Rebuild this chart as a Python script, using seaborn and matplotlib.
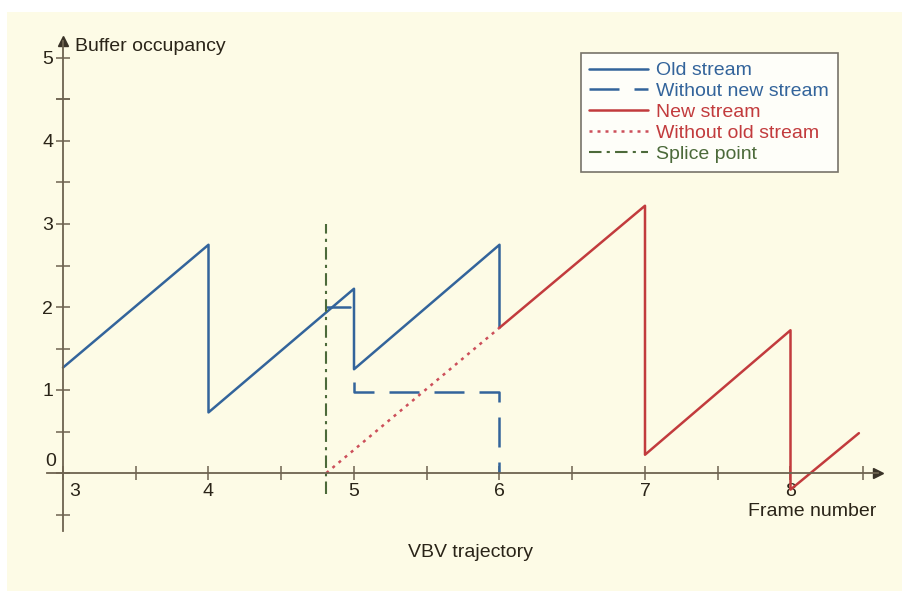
import matplotlib
matplotlib.use("Agg")
import matplotlib.pyplot as plt
from matplotlib.patches import Rectangle
import seaborn as sns

# data
old_x = [3, 4, 4, 5, 5, 6, 6]
old_y = [1.27, 2.75, 0.73, 2.22, 1.25, 2.75, 1.75]
hold_x = [4.81, 4.97]
hold_y = [2.0, 2.0]
no_new_x = [5, 5, 6, 6]
no_new_y = [1.1, 0.97, 0.97, 0.0]
new_x = [6, 7, 7, 8, 8, 8.47]
new_y = [1.75, 3.22, 0.22, 1.72, -0.2, 0.48]
no_old_x = [4.81, 6]
no_old_y = [0.0, 1.75]
splice_x = [4.81, 4.81]
splice_y = [-0.25, 3.0]

x_ticks = [3, 4, 5, 6, 7, 8]
y_ticks = [0, 1, 2, 3, 4, 5]

BG = "#fdfbe6"
AXC = "#6e6350"
TXT = "#2a2418"
BLUE = "#33649b"
RED = "#c23b3d"
PINK = "#cc4f5a"
GREEN = "#4c6a3a"

sns.set_style("white")
plt.rcParams["font.family"] = ["Liberation Sans", "DejaVu Sans"]

fig = plt.figure(figsize=(9.03, 5.91), dpi=100, facecolor="white")
# cream page with a thin white margin top and left
fig.patches.append(Rectangle((7 / 903, 0), 1, 1 - 12 / 591,
                             transform=fig.transFigure, facecolor=BG,
                             edgecolor="none", zorder=-10))
ax = fig.add_axes([0, 0, 1, 1])
ax.patch.set_alpha(0)

# map pixels: x=3 at px 63, 145.5 px/unit; y=0 at px 473, 83 px/unit
ax.set_xlim(3 - 63 / 145.5, 3 + 840 / 145.5)
ax.set_ylim(-118 / 83, 473 / 83)

sns.lineplot(x=old_x, y=old_y, sort=False, estimator=None, color=BLUE,
             lw=1.8, ax=ax, label="Old stream")
sns.lineplot(x=hold_x, y=hold_y, sort=False, estimator=None, color=BLUE,
             lw=1.8, ax=ax)
sns.lineplot(x=no_new_x, y=no_new_y, sort=False, estimator=None, color=BLUE,
             lw=1.8, ax=ax, label="Without new stream")
ax.lines[-1].set_dashes([12, 6])
sns.lineplot(x=new_x, y=new_y, sort=False, estimator=None, color=RED,
             lw=1.8, ax=ax, label="New stream")
sns.lineplot(x=no_old_x, y=no_old_y, sort=False, estimator=None, color=PINK,
             lw=1.8, ax=ax, label="Without old stream")
ax.lines[-1].set_dashes([1.2, 2])
sns.lineplot(x=splice_x, y=splice_y, sort=False, estimator=None, color=GREEN,
             lw=1.5, ax=ax, label="Splice point")
ax.lines[-1].set_dashes([6, 2.5, 1.5, 2.5])

# axes through origin
for s in ["top", "right"]:
    ax.spines[s].set_visible(False)
ax.spines["left"].set_position(("data", 3))
ax.spines["bottom"].set_position(("data", 0))
ax.spines["left"].set_bounds(-0.7, 5.2)
ax.spines["bottom"].set_bounds(2.89, 8.6)
for s in ["left", "bottom"]:
    ax.spines[s].set_color(AXC)
    ax.spines[s].set_linewidth(1.3)
ax.plot([8.6], [0], marker=">", color="#3a3328", ms=7, clip_on=False)
ax.plot([3], [5.2], marker="^", color="#3a3328", ms=7, clip_on=False)

ax.set_xticks(x_ticks)
ax.set_xticks([v + 0.5 for v in x_ticks], minor=True)
ax.set_yticks(y_ticks)
ax.set_yticks([v - 0.5 for v in y_ticks] + [4.5], minor=True)
ax.set_xticklabels([""] + [str(v) for v in x_ticks[1:]])
ax.set_yticklabels([""] + [str(v) for v in y_ticks[1:]])
ax.tick_params(which="both", bottom=True, left=True, direction="inout",
               length=10, width=1.1, color=AXC, labelsize=14,
               labelcolor=TXT, pad=2)
ax.tick_params(axis="x", which="major", pad=2)
ax.text(3.04, -0.12, "3", fontsize=14, color=TXT, va="top", ha="left")
ax.text(2.95, 0.04, "0", fontsize=14, color=TXT, va="bottom", ha="right")

ax.text(3.08, 5.14, "Buffer occupancy", fontsize=14, color=TXT,
        va="center", ha="left")
ax.text(8.15, -0.46, "Frame number", fontsize=14, color=TXT,
        va="center", ha="center")
ax.text(5.8, -0.96, "VBV trajectory", fontsize=14, color=TXT,
        va="center", ha="center")

leg = ax.legend(loc="upper right", bbox_to_anchor=(838 / 903, 1 - 53 / 591),
                bbox_transform=fig.transFigure, borderaxespad=0,
                fontsize=14, frameon=True, fancybox=False,
                edgecolor="#555048", handlelength=3.0, labelspacing=0.17,
                borderpad=0.45, handletextpad=0.45,
                labelcolor=[BLUE, BLUE, RED, RED, GREEN])
leg.get_frame().set_linewidth(1.2)
leg.get_frame().set_facecolor("white")

fig.savefig("out.png", dpi=100, facecolor="white")
